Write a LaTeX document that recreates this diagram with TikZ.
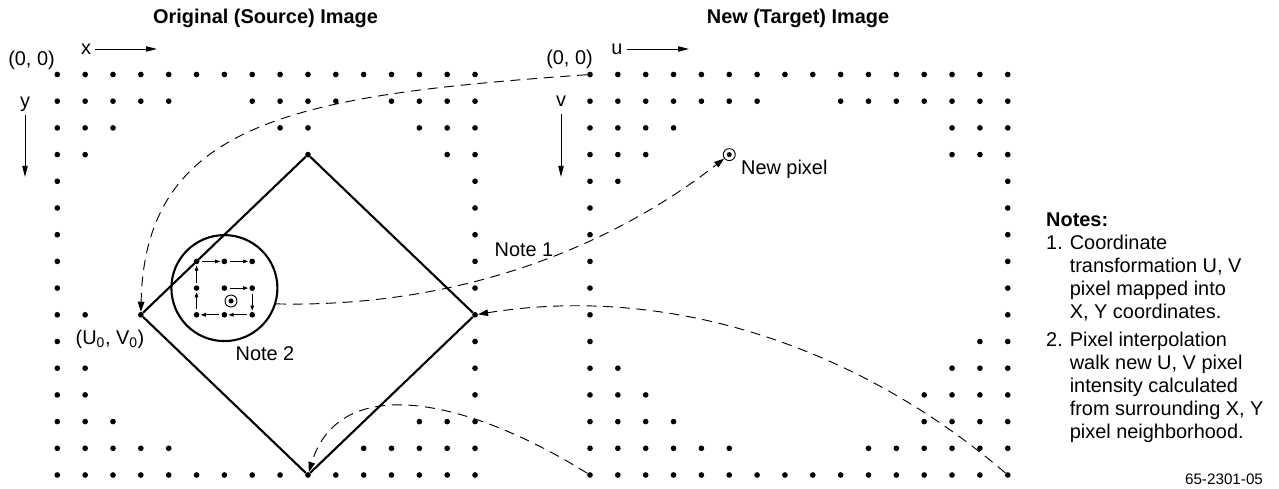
\documentclass[tikz,border=0pt]{standalone}
\usepackage{fontspec}
\setmainfont{Liberation Sans}
\usetikzlibrary{arrows.meta}
\tikzset{
  px/.style={circle,fill,inner sep=0pt,minimum size=0.17cm},
  ring/.style={circle,draw,line width=0.8pt,inner sep=0pt,minimum size=0.36cm,
    path picture={\fill (path picture bounding box.center) circle (0.075cm);}},
  edge/.style={line width=1.8pt},
  axis/.style={line width=0.8pt,-{Triangle[length=0.33cm,width=0.16cm]}},
  map/.style={line width=0.8pt,dash pattern=on 0.3cm off 0.2cm,-{Triangle[length=0.3cm,width=0.2cm]}},
  walk/.style={line width=0.6pt,shorten <=2pt,shorten >=1pt,-{Triangle[length=0.15cm,width=0.11cm]}},
  lbl/.style={font=\fontsize{17}{20}\selectfont},
  title/.style={font=\bfseries\fontsize{17}{20}\selectfont}
}
\begin{document}
\begin{tikzpicture}[x=0.03cm,y=-0.03cm]
\useasboundingbox (0,0) rectangle (1279,489);

\foreach \r/\cl in {0/{0,...,15},1/{0,1,2,3,4,7,8,9,10,12,13,14,15},2/{0,1,2,8,9,13,14,15},
  3/{0,1,9,14,15},4/{0,15},5/{0,15},6/{0,15},7/{0,5,6,7,15},8/{0,5,6,7,15},9/{0,1,3,5,6,7,15},
  10/{0,15},11/{0,1,15},12/{0,1,15},13/{0,1,2,13,14,15},14/{0,1,2,3,4,11,12,13,14,15},15/{0,...,15}}
  \foreach \c in \cl
    \node[px] (s-\c-\r) at ({57.3+27.85*\c},{74.5+26.7*\r}) {};

\foreach \r/\cl in {0/{0,...,15},1/{0,1,2,3,4,5,6,9,10,11,12,13,14,15},2/{0,1,2,3,13,14,15},
  3/{0,1,2,13,14,15},4/{0,1,15},5/{0,15},6/{0,15},7/{0,15},8/{0,15},9/{0,15},10/{0,14,15},
  11/{0,1,13,14,15},12/{0,1,2,12,13,14,15},13/{0,1,2,3,12,13,14,15},14/{0,1,2,3,4,5,10,11,12,13,14,15},15/{0,...,15}}
  \foreach \c in \cl
    \node[px] (t-\c-\r) at ({590+27.85*\c},{74.5+26.7*\r}) {};

\node[title] (src) at (265.5,18) {Original (Source) Image};
\node[title] (tgt) at (798,18) {New (Target) Image};

\node[lbl] (o1) at (31.5,60) {(0, 0)};
\node[lbl] (xlab) at (86,49) {x};
\coordinate (xend) at (157,49);
\draw[axis] (xlab) -- (xend);
\node[lbl] (ylab) at (25,104) {y};
\coordinate (yend) at (25,177);
\draw[axis] (ylab) -- (yend);

\node[lbl] (o2) at (569.5,59.5) {(0, 0)};
\node[lbl] (ulab) at (617,49) {u};
\coordinate (uend) at (689,49);
\draw[axis] (ulab) -- (uend);
\node[lbl] (vlab) at (561,101) {v};
\coordinate (vend) at (561,177);
\draw[axis,shorten <=3pt] (vlab) -- (vend);

\draw[edge] (s-9-3) -- (s-15-9) -- (s-9-15) -- (s-3-9) -- (s-9-3);
\node[draw,circle,line width=1.8pt,minimum size=3.18cm,inner sep=0pt] (lens) at (s-6-8) {};
\foreach \a/\b in {6-8/7-8,7-8/7-9,7-9/6-9,6-9/5-9,5-9/5-8,5-8/5-7,5-7/6-7,6-7/7-7}
  \draw[walk] (s-\a) -- (s-\b);
\node[ring] (oldpx) at (231,301) {};
\node[ring] (newpx) at ({590+27.85*5},{74.5+26.7*3}) {};

\node[lbl] (uv0) at (110,339) {(U\textsubscript{0}, V\textsubscript{0})};
\node[lbl] (n2) at (265,354) {Note 2};
\node[lbl] (n1) at (524,250) {Note 1};
\node[lbl,anchor=west] (np) at (737,169) {New pixel};

\draw[map] (t-0-0) .. controls (300,95) and (145,120) .. (s-3-9);
\draw[map] (lens.-17) .. controls (470,308) and (620,240) .. (newpx);
\draw[map] (t-15-15) .. controls (850,340) and (660,285) .. (s-15-9);
\draw[map] (t-0-15) .. controls (470,400) and (340,370) .. (s-9-15);

\node[anchor=north west,inner sep=0pt,font=\fontsize{17}{19.6}\selectfont] (notes) at (1046,210)
  {\begin{tabular}{@{}l@{\hspace{0.35em}}l@{}}
   \multicolumn{2}{@{}l@{}}{\textbf{Notes:}}\\
   1. & Coordinate\\
      & transformation U, V\\
      & pixel mapped into\\
      & X, Y coordinates.\\[5pt]
   2. & Pixel interpolation\\
      & walk new U, V pixel\\
      & intensity calculated\\
      & from surrounding X, Y\\
      & pixel neighborhood.
   \end{tabular}};
\node[font=\fontsize{13}{15}\selectfont] (code) at (1224,479) {65-2301-05};
\end{tikzpicture}
\end{document}
